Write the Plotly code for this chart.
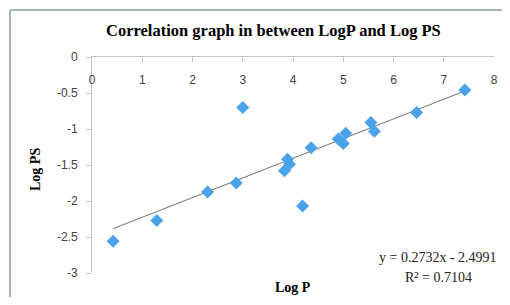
import plotly.graph_objects as go

# Data
log_p = [0.42, 1.29, 2.30, 2.87, 3.00, 3.83, 3.89, 3.93, 4.19, 4.36,
         4.90, 5.00, 5.05, 5.55, 5.62, 6.46, 7.42]
log_ps = [-2.56, -2.27, -1.875, -1.75, -0.70, -1.58, -1.42, -1.49, -2.07, -1.26,
          -1.14, -1.20, -1.06, -0.91, -1.03, -0.77, -0.46]

slope = 0.2732
intercept = -2.4991
r_squared = 0.7104

x_ticks = [0, 1, 2, 3, 4, 5, 6, 7, 8]
y_ticks = [0, -0.5, -1, -1.5, -2, -2.5, -3]
y_tick_text = ["0", "-0.5", "-1", "-1.5", "-2", "-2.5", "-3"]

x_min, x_max = min(log_p), max(log_p)
trend_x = [x_min, x_max]
trend_y = [slope * v + intercept for v in trend_x]

W, H = 510, 305
OFF = 8  # page body margin
FW, FH = W - 2 * OFF, H - 2 * OFF  # keep the page free of scrollbars
# plot area in screen pixels: x 92..494, y 57..273
ML = 92 - OFF
MT = 57 - OFF
MR = FW - (494 - OFF)
MB = FH - (273 - OFF)
PW, PH = FW - ML - MR, FH - MT - MB

def sx(px):
    return (px - OFF - ML) / PW

def sy(py):
    return 1 - (py - OFF - MT) / PH

fig = go.Figure()
fig.add_trace(go.Scatter(
    x=trend_x, y=trend_y, mode="lines",
    line=dict(color="#6b7575", width=1), hoverinfo="skip", showlegend=False))
fig.add_trace(go.Scatter(
    x=log_p, y=log_ps, mode="markers",
    marker=dict(symbol="diamond", size=10, color="#4aa3ea",
                line=dict(width=0)),
    showlegend=False))

serif = "Liberation Serif, Times New Roman, serif"
sans = "Liberation Sans, Arial, sans-serif"
frame = dict(color="#a3b6b2", width=2)

fig.update_layout(
    width=FW, height=FH,
    margin=dict(l=ML, r=MR, t=MT, b=MB, autoexpand=False),
    paper_bgcolor="white", plot_bgcolor="white",
    showlegend=False,
    annotations=[
        dict(text="<b>Correlation graph in between LogP and Log PS</b>",
             xref="paper", yref="paper", x=sx(273), y=sy(31),
             showarrow=False, font=dict(family=serif, size=16.5, color="black"),
             xanchor="center", yanchor="middle"),
        dict(text="<b>Log P</b>", xref="paper", yref="paper",
             x=sx(293), y=sy(287),
             showarrow=False, font=dict(family=serif, size=14, color="black"),
             xanchor="center", yanchor="middle"),
        dict(text="<b>Log PS</b>", xref="paper", yref="paper",
             x=sx(35), y=sy(170), textangle=-90,
             showarrow=False, font=dict(family=serif, size=14, color="black"),
             xanchor="center", yanchor="middle"),
        dict(text=f"y = {slope}x - {abs(intercept)}", xref="paper", yref="paper",
             x=sx(438), y=sy(257),
             showarrow=False, font=dict(family=serif, size=14, color="#222222"),
             xanchor="center", yanchor="middle"),
        dict(text=f"R² = {r_squared}", xref="paper", yref="paper",
             x=sx(438), y=sy(277),
             showarrow=False, font=dict(family=serif, size=14, color="#222222"),
             xanchor="center", yanchor="middle"),
    ],
    xaxis=dict(range=[0, 8], tickvals=x_ticks, side="top",
               showline=True, linecolor="#c4c4c4", linewidth=1,
               ticks="inside", ticklen=5, tickcolor="#c4c4c4",
               ticklabelposition="inside", ticklabelstandoff=13,
               ticklabeloverflow="allow",
               showgrid=False, zeroline=False,
               tickfont=dict(family=sans, size=12, color="#404040")),
    yaxis=dict(range=[-3, 0], tickvals=y_ticks, ticktext=y_tick_text,
               showline=True, linecolor="#c4c4c4", linewidth=1,
               ticks="outside", ticklen=5, tickcolor="#c4c4c4",
               ticklabelstandoff=6, ticklabeloverflow="allow",
               showgrid=False, zeroline=False,
               tickfont=dict(family=sans, size=12, color="#404040")),
    shapes=[
        dict(type="line", xref="paper", yref="paper",
             x0=sx(10), x1=sx(560), y0=sy(10), y1=sy(10), line=frame, layer="below"),
        dict(type="line", xref="paper", yref="paper",
             x0=sx(10), x1=sx(10), y0=sy(360), y1=sy(10), line=frame, layer="below"),
    ],
)

fig.write_html("out.html")
